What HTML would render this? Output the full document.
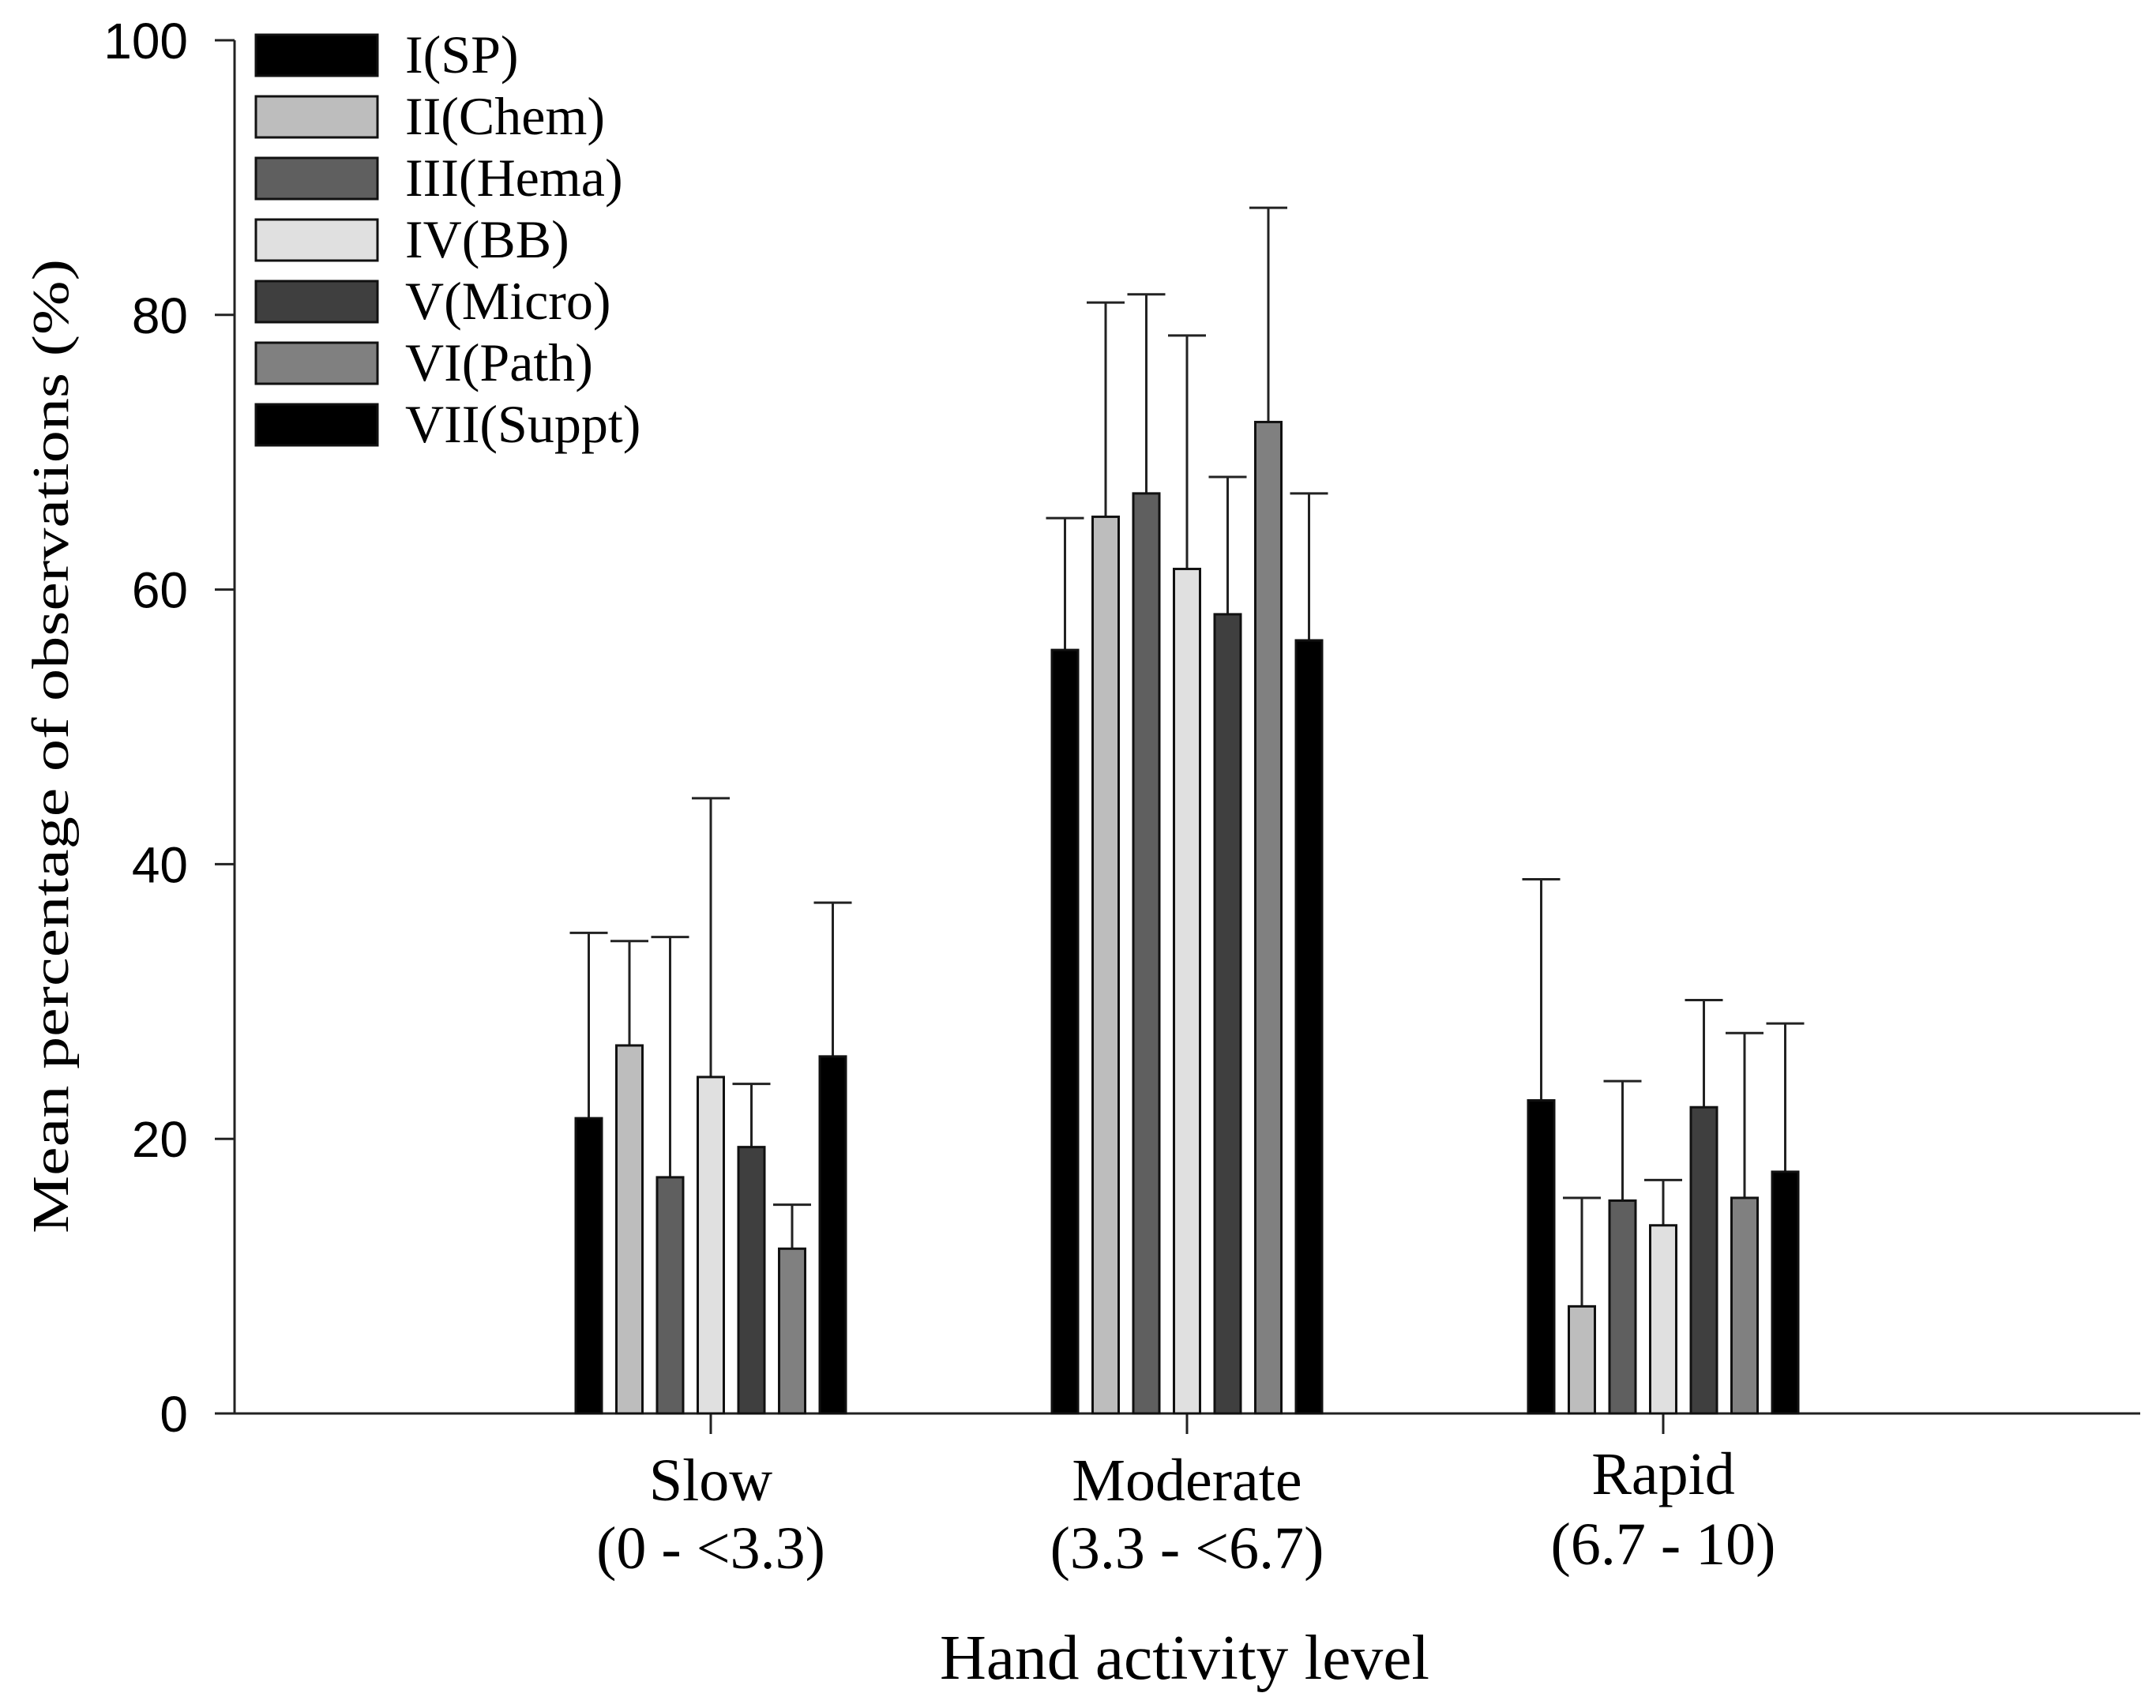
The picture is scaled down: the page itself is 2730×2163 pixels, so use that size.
<!DOCTYPE html>
<html><head><meta charset="utf-8"><style>
html,body{margin:0;padding:0;background:#fff;}
svg{display:block;}
text{font-family:"Liberation Serif",serif;fill:#000;}
.num{font-family:"Liberation Sans",sans-serif;}
</style></head><body>
<svg id="chart" width="2730" height="2163" viewBox="0 0 2730 2163">
<g id="plot"></g>
<g id="legend"></g>
<text x="0" y="0" font-size="66" text-anchor="middle" transform="translate(86,945) rotate(-90)" textLength="1234" lengthAdjust="spacingAndGlyphs">Mean percentage of observations (%)</text>
<text x="1500" y="2126" font-size="80" text-anchor="middle" textLength="620" lengthAdjust="spacingAndGlyphs">Hand activity level</text>
</svg>
<script>
const categories = ["Slow", "Moderate", "Rapid"];
const catSub = ["(0 - <3.3)", "(3.3 - <6.7)", "(6.7 - 10)"];
const seriesNames = ["I(SP)", "II(Chem)", "III(Hema)", "IV(BB)", "V(Micro)", "VI(Path)", "VII(Suppt)"];
const seriesColors = ["#000000", "#bdbdbd", "#5f5f5f", "#e0e0e0", "#3f3f3f", "#808080", "#000000"];
const valuesSlow = [21.5, 26.8, 17.2, 24.5, 19.4, 12.0, 26.0];
const valuesModerate = [55.6, 65.3, 67.0, 61.5, 58.2, 72.2, 56.3];
const valuesRapid = [22.8, 7.8, 15.5, 13.7, 22.3, 15.7, 17.6];
const errTopSlow = [35.0, 34.4, 34.7, 44.8, 24.0, 15.2, 37.2];
const errTopModerate = [65.2, 80.9, 81.5, 78.5, 68.2, 87.8, 67.0];
const errTopRapid = [38.9, 15.7, 24.2, 17.0, 30.1, 27.7, 28.4];
const yTicks = [0, 20, 40, 60, 80, 100];

const values = [valuesSlow, valuesModerate, valuesRapid];
const errTops = [errTopSlow, errTopModerate, errTopRapid];
const NS = "http://www.w3.org/2000/svg";
const AX = 297, AY0 = 1790, AY100 = 51, AXEND = 2710;
function yScale(v){ return AY0 - (v/100)*(AY0-AY100); }
function xCat(i){ return 900 + i*603; }
const pitch = 51.5, bw = 33;
function xBar(ci, si){ return xCat(ci) + (si-3)*pitch; }
function mk(tag, attrs, parent){
  const e = document.createElementNS(NS, tag);
  for (const k in attrs) e.setAttribute(k, attrs[k]);
  parent.appendChild(e); return e;
}
const plot = document.getElementById('plot');
let yl = mk('line', {x1:AX, y1:AY100, x2:AX, y2:AY0, stroke:'#222', 'stroke-width':3}, plot);


let xl = mk('line', {x1:AX, y1:AY0, x2:AXEND, y2:AY0, stroke:'#222', 'stroke-width':3}, plot);


yTicks.forEach(t => {
  const y = yScale(t);
  let tk = mk('line', {x1:AX-25, y1:y, x2:AX, y2:y, stroke:'#222', 'stroke-width':3}, plot);
  
  
  let tl = mk('text', {x:238, y:y+23, 'font-size':64, 'text-anchor':'end', class:'num'}, plot);
  tl.textContent = t;
  
  
});
categories.forEach((c, ci) => {
  const x = xCat(ci);
  let tk = mk('line', {x1:x, y1:AY0, x2:x, y2:AY0+26, stroke:'#222', 'stroke-width':3}, plot);
  
  
  let t1 = mk('text', {x:x, y:ci==2?1892:1900, 'font-size':76, 'text-anchor':'middle'}, plot);
  t1.textContent = c;
  
  
  let t2 = mk('text', {x:x, y:ci==2?1981:1986, 'font-size':76, 'text-anchor':'middle'}, plot);
  t2.textContent = catSub[ci];
  
  
  values[ci].forEach((v, si) => {
    const cx = xBar(ci, si);
    const yt = yScale(v), ye = yScale(errTops[ci][si]);
    let el = mk('line', {x1:cx, y1:ye, x2:cx, y2:yt, stroke:'#222', 'stroke-width':3}, plot);
    
    
    let cp = mk('line', {x1:cx-24, y1:ye, x2:cx+24, y2:ye, stroke:'#222', 'stroke-width':3}, plot);
    
    
    let r = mk('rect', {x:cx-bw/2, y:yt, width:bw, height:AY0-yt, fill:seriesColors[si], stroke:'#111', 'stroke-width':3}, plot);
    
    
  });
});
const leg = document.getElementById('legend');
seriesNames.forEach((n, si) => {
  const y = 44 + si*78;
  let b = mk('rect', {x:324, y:y, width:154, height:52, fill:seriesColors[si], stroke:'#111', 'stroke-width':3}, leg);
  
  
  let t = mk('text', {x:513, y:y+48, 'font-size':68}, leg);
  t.textContent = n;
  
  
});
</script>
</body></html>
